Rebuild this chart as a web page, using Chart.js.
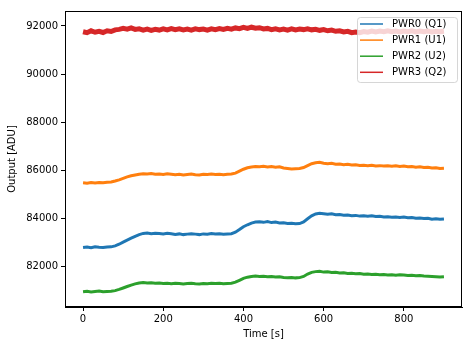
<!DOCTYPE html>
<html>
<head>
<meta charset="utf-8">
<script src="https://cdn.jsdelivr.net/npm/chart.js@4/dist/chart.umd.min.js"></script>
<style>
  html, body { margin: 0; padding: 0; background: #fff; }
  #wrap { width: 473px; height: 347px; }
</style>
</head>
<body>
<div id="wrap"><canvas id="chart" width="473" height="347"></canvas></div>
<script>
// sample times [s], one reading every 10 s
const times = [
    0, 10, 20, 30, 40, 50, 60, 70, 80, 90,
    100, 110, 120, 130, 140, 150, 160, 170, 180, 190,
    200, 210, 220, 230, 240, 250, 260, 270, 280, 290,
    300, 310, 320, 330, 340, 350, 360, 370, 380, 390,
    400, 410, 420, 430, 440, 450, 460, 470, 480, 490,
    500, 510, 520, 530, 540, 550, 560, 570, 580, 590,
    600, 610, 620, 630, 640, 650, 660, 670, 680, 690,
    700, 710, 720, 730, 740, 750, 760, 770, 780, 790,
    800, 810, 820, 830, 840, 850, 860, 870, 880, 890,
    900
];

// detector output [ADU]
const pwr0 = [
    82780, 82800, 82770, 82810, 82790, 82780, 82800, 82810, 82850, 82920,
    83010, 83090, 83170, 83250, 83320, 83370, 83390, 83360, 83380, 83370,
    83350, 83380, 83360, 83330, 83350, 83320, 83340, 83360, 83340, 83320,
    83350, 83340, 83370, 83350, 83360, 83340, 83350, 83360, 83420, 83530,
    83650, 83730, 83800, 83840, 83850, 83830, 83860, 83820, 83840, 83800,
    83810, 83780, 83790, 83770, 83780, 83850, 83980, 84100, 84180, 84210,
    84190, 84170, 84190, 84150, 84160, 84130, 84140, 84110, 84120, 84090,
    84100, 84080, 84100, 84070, 84080, 84050, 84060, 84040, 84050, 84030,
    84050, 84020, 84030, 84000, 84010, 83990, 84000, 83960, 83980, 83960,
    83970
];
const pwr1 = [
    85480, 85460, 85490, 85470, 85490, 85480, 85500, 85510, 85550, 85600,
    85660, 85720, 85770, 85800, 85830, 85850, 85840, 85860, 85830, 85840,
    85820, 85850, 85830, 85810, 85830, 85800, 85820, 85840, 85810, 85800,
    85830, 85820, 85840, 85820, 85830, 85810, 85830, 85840, 85880, 85960,
    86040, 86100, 86130, 86150, 86140, 86160, 86130, 86150, 86120, 86140,
    86090, 86070, 86050, 86060, 86070, 86110, 86190, 86270, 86310, 86330,
    86290, 86270, 86290, 86250, 86260, 86230, 86250, 86220, 86230, 86200,
    86210, 86190, 86210, 86180, 86190, 86170, 86180, 86160, 86180, 86150,
    86170, 86140, 86150, 86120, 86140, 86110, 86120, 86090, 86100, 86070,
    86080
];
const pwr2 = [
    80940, 80960, 80930, 80950, 80970, 80940, 80950, 80960, 80990, 81040,
    81100, 81160, 81220, 81270, 81310, 81330, 81310, 81320, 81300, 81310,
    81290, 81300, 81280, 81300, 81290, 81270, 81290, 81300, 81280, 81270,
    81290, 81280, 81300, 81290, 81300, 81280, 81290, 81300, 81340, 81420,
    81500, 81550, 81580, 81600, 81580, 81590, 81570, 81580, 81560, 81570,
    81540, 81530, 81540, 81520, 81530, 81580, 81680, 81750, 81780, 81790,
    81760, 81770, 81740, 81750, 81720, 81730, 81700, 81710, 81690, 81700,
    81670, 81680, 81660, 81670, 81650, 81660, 81640, 81650, 81630, 81650,
    81640, 81620, 81630, 81610, 81620, 81600, 81590, 81580, 81570, 81560,
    81570
];
const pwr3 = [
    91760, 91720, 91800, 91740, 91780, 91730, 91800, 91770, 91840, 91860,
    91900, 91870, 91920, 91860, 91880, 91830, 91870, 91820, 91860, 91830,
    91880, 91840, 91890, 91850, 91880, 91840, 91870, 91830, 91880, 91850,
    91870, 91830, 91880, 91850, 91890, 91860, 91900, 91870, 91920, 91890,
    91940, 91900, 91950, 91910, 91930, 91880, 91900, 91850, 91880, 91840,
    91870, 91830, 91880, 91840, 91870, 91850, 91880, 91840, 91860, 91820,
    91850, 91800, 91830, 91780, 91800, 91750, 91780, 91720, 91750, 91720,
    91770, 91740, 91790, 91750, 91790, 91760, 91800, 91760, 91790, 91750,
    91790, 91760, 91800, 91750, 91790, 91760, 91790, 91750, 91780, 91760,
    91780
];

const seriesLabels = ['PWR0 (Q1)', 'PWR1 (U1)', 'PWR2 (U2)', 'PWR3 (Q2)'];
const seriesColors = ['#1f77b4', '#ff7f0e', '#2ca02c', '#d62728'];
const xTickValues = [0, 200, 400, 600, 800];
const yTickValues = [82000, 84000, 86000, 88000, 90000, 92000];

const FONT = { family: 'DejaVu Sans', size: 10 };

const toPoints = (vals) => times.map((t, i) => ({ x: t, y: vals[i] }));

// matplotlib-like box: spines on all four sides
const frame = {
    id: 'frame',
    afterDatasetsDraw(chart) {
        const { ctx, chartArea: a } = chart;
        ctx.save();
        ctx.strokeStyle = '#000';
        ctx.lineWidth = 1;
        ctx.strokeRect(a.left + 0.5, a.top + 0.5, a.right - a.left - 1, a.bottom - a.top - 1);
        ctx.restore();
    }
};

// legend box in the upper right corner, drawn over the lines
const boxLegend = {
    id: 'boxLegend',
    afterDraw(chart) {
        const { ctx, chartArea: a } = chart;
        const x = a.right - 105, y = a.top + 6, w = 100, h = 65;
        ctx.save();
        ctx.globalAlpha = 0.8;
        ctx.fillStyle = '#fff';
        ctx.strokeStyle = '#ccc';
        ctx.lineWidth = 1;
        ctx.beginPath();
        ctx.roundRect(x + 0.5, y + 0.5, w, h, 3);
        ctx.fill();
        ctx.stroke();
        ctx.globalAlpha = 1;
        ctx.font = '10px "DejaVu Sans"';
        ctx.textBaseline = 'middle';
        chart.data.datasets.forEach((ds, i) => {
            const cy = y + 7 + i * 16.1;
            ctx.strokeStyle = ds.borderColor;
            ctx.lineWidth = 1.5;
            ctx.beginPath();
            ctx.moveTo(x + 3, cy);
            ctx.lineTo(x + 26, cy);
            ctx.stroke();
            ctx.fillStyle = '#000';
            ctx.fillText(ds.label, x + 35, cy);
        });
        ctx.restore();
    }
};

const widths = [3, 3, 3, 5];

new Chart(document.getElementById('chart'), {
    type: 'line',
    data: {
        datasets: [pwr0, pwr1, pwr2, pwr3].map((vals, i) => ({
            label: seriesLabels[i],
            data: toPoints(vals),
            borderColor: seriesColors[i],
            backgroundColor: seriesColors[i],
            borderWidth: widths[i],
            pointRadius: 0,
            tension: 0,
            fill: false,
        }))
    },
    options: {
        responsive: false,
        animation: false,
        devicePixelRatio: 1,
        layout: { padding: { top: 11, right: 11, left: 0, bottom: 0 } },
        scales: {
            x: {
                type: 'linear',
                min: -45,
                max: 945,
                afterBuildTicks: (scale) => { scale.ticks = xTickValues.map(v => ({ value: v })); },
                afterFit: (scale) => { scale.height = 40; },
                grid: { drawOnChartArea: false, drawTicks: true, tickLength: 4, tickColor: '#000', tickWidth: 1 },
                border: { display: true, color: '#000', width: 1 },
                ticks: { font: FONT, color: '#000', padding: 2, maxRotation: 0, callback: v => String(v) },
                title: { display: true, text: 'Time [s]', font: FONT, color: '#000', padding: { top: 0, bottom: 7 } },
            },
            y: {
                type: 'linear',
                min: 80308,
                max: 92624,
                afterBuildTicks: (scale) => { scale.ticks = yTickValues.map(v => ({ value: v })); },
                afterFit: (scale) => { scale.width = 65; },
                grid: { drawOnChartArea: false, drawTicks: true, tickLength: 4, tickColor: '#000', tickWidth: 1 },
                border: { display: true, color: '#000', width: 1 },
                ticks: { font: FONT, color: '#000', padding: 3, callback: v => String(v) },
                title: { display: true, text: 'Output [ADU]', font: FONT, color: '#000', padding: { top: 6, bottom: 0 } },
            }
        },
        plugins: {
            legend: { display: false },
            tooltip: { enabled: false },
        }
    },
    plugins: [frame, boxLegend]
});
</script>
</body>
</html>
